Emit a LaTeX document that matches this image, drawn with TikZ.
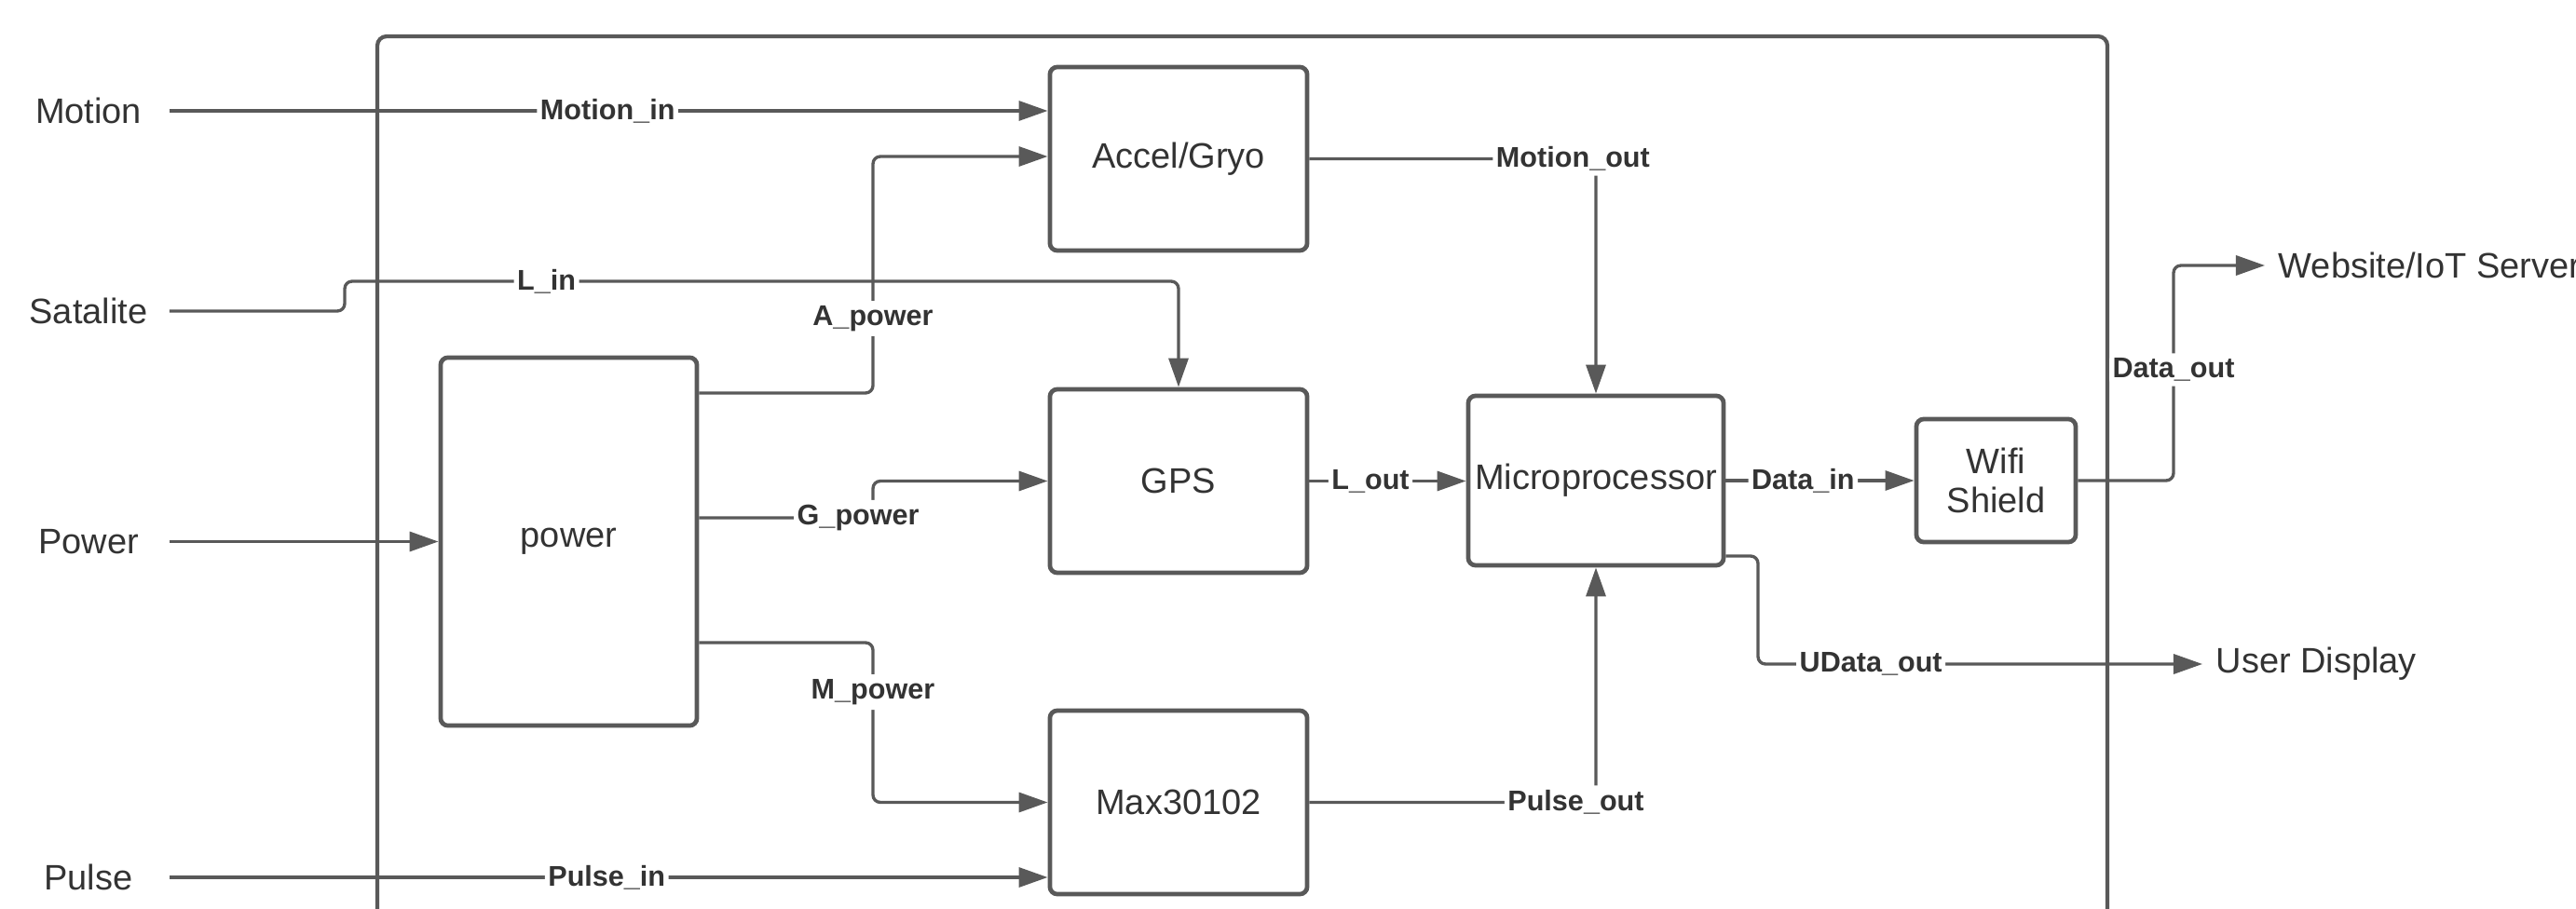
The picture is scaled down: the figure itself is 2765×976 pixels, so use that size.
\documentclass[tikz,border=0pt]{standalone}
\usepackage{fontspec}
\setmainfont{Liberation Sans}
\usetikzlibrary{arrows.meta}
\definecolor{ln}{HTML}{595959}
\definecolor{tx}{HTML}{333333}
\tikzset{
  blk/.style={draw=ln, line width=1.35pt, rounded corners=0.08cm, fill=white, text=tx,
    font=\fontsize{10.8}{11.7}\selectfont, align=center, inner sep=0},
  ext/.style={text=tx, font=\fontsize{10.8}{13}\selectfont, minimum width=1.72cm, inner sep=0},
  outtxt/.style={text=tx, font=\fontsize{10.8}{13}\selectfont, anchor=west, inner xsep=0.14cm, inner ysep=0},
  wire/.style={draw=ln, line width=0.95pt, rounded corners=0.08cm},
  conn/.style={wire, -{Triangle[length=0.31cm,width=0.21cm]}},
  lab/.style={fill=white, text=tx, font=\bfseries\fontsize{8.7}{10}\selectfont, inner xsep=1pt, inner ysep=1.5pt},
  frame/.style={draw=ln, line width=1.2pt, rounded corners=0.1cm}
}
\begin{document}
\begin{tikzpicture}[x=0.01cm,y=-0.01cm]
\useasboundingbox (0,0) rectangle (2765,976);
\clip (0,0) rectangle (2765,976);
\fill[white] (0,0) rectangle (2765,976);
% frame
\draw[frame] (405,1010) -- (405,39) -- (2262,39) -- (2262,1010);
% blocks
\node[blk, minimum width=2.76cm, minimum height=1.97cm] (acc) at (1265,170.5) {Accel/Gryo};
\node[blk, minimum width=2.76cm, minimum height=1.97cm] (gps) at (1265,516.5) {GPS};
\node[blk, minimum width=2.76cm, minimum height=1.97cm] (max) at (1265,861.5) {Max30102};
\node[blk, minimum width=2.75cm, minimum height=3.95cm] (pow) at (610.5,581.5) {power};
\node[blk, minimum width=2.74cm, minimum height=1.82cm] (mcu) at (1713,516) {Microprocessor};
\node[blk, minimum width=1.71cm, minimum height=1.32cm] (wifi) at (2142.5,516) {\raisebox{0.03cm}{Wifi}\\[-0.02cm]Shield};
% external texts
\node[ext] (motion) at (95,119) {Motion};
\node[ext] (sat) at (95,334) {Satalite};
\node[ext] (pwr) at (95,581.5) {Power};
\node[ext] (pulse) at (95,942) {Pulse};
\node[outtxt] (web) at (2431,285) {Website/IoT Server};
\node[outtxt] (user) at (2364,713) {User Display};
% connectors
\draw[conn] (motion.east) -- node[lab,pos=0.499]{Motion\_in} (motion.east -| acc.west);
\draw[conn] (pow.east |- 0,422) -- (937,422) -- node[lab,pos=0.315]{A\_power} (937,168) -- (acc.west |- 0,168);
\draw[conn] (sat.east) -- (370,334) -- (370,302) -- node[lab,pos=0.242]{L\_in} (1265,302) -- (gps.north);
\draw[conn] (pwr.east) -- (pow.west);
\draw[conn] (pow.east |- 0,556) -- node[lab,pos=0.915]{G\_power} (937,556) -- (937,516.5) -- (gps.west);
\draw[conn] (pow.east |- 0,690) -- (937,690) -- node[lab,pos=0.31]{M\_power} (937,861.5) -- (max.west);
\draw[conn] (pulse.east) -- node[lab,pos=0.498]{Pulse\_in} (pulse.east -| max.west);
\draw[conn] (acc.east) -- node[lab,pos=0.92]{Motion\_out} (acc.east -| mcu.north) -- (mcu.north);
\draw[conn] (gps.east) -- node[lab,pos=0.39]{L\_out} (gps.east -| mcu.west);
\draw[conn] (max.east) -- node[lab,pos=0.93]{Pulse\_out} (max.east -| mcu.south) -- (mcu.south);
\draw[conn] (mcu.east) -- node[lab,pos=0.41]{Data\_in} (wifi.west);
\draw[conn] (wifi.east) -- (2333,516) -- node[lab,pos=0.515]{Data\_out} (2333,285) -- (web.west);
\draw[conn] (mcu.east |- 0,597) -- (1887,597) -- (1887,713) -- node[lab,pos=0.254]{UData\_out} (user.west);
\end{tikzpicture}
\end{document}
